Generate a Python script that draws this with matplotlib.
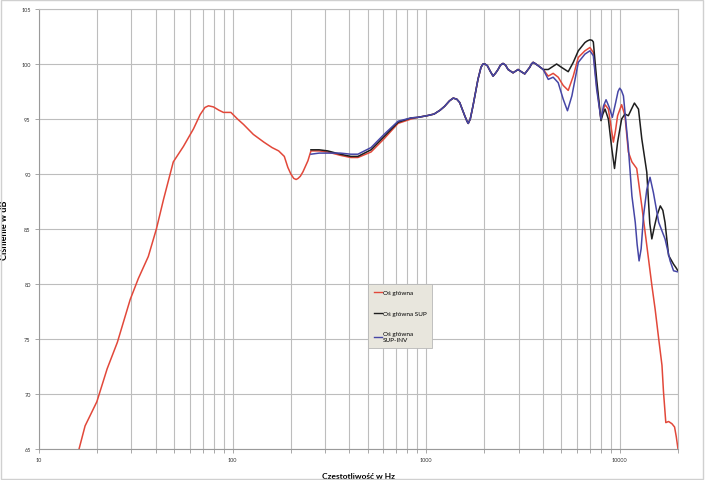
"""
Frequency response: main axis, SUP and SUP-INV
"""

import matplotlib
matplotlib.use('Agg')
import matplotlib.pyplot as plt
from matplotlib.ticker import LogLocator, NullFormatter, FixedLocator, FixedFormatter
from matplotlib.patches import Rectangle

# red curve: Oś główna (full range)
red_f = [16.1, 17.3, 19.9, 22.5, 25.4, 29.6, 32.6, 36.7, 40.4, 44.0, 49.4, 55.7,
         62.8, 68.0, 72.0, 75.1, 79.6, 85.0, 89.7, 98, 106, 114, 128, 145, 160, 173, 185,
         193, 200, 207, 213, 218, 224, 231, 245, 254, 280, 310, 360, 408, 444, 519, 606,
         716, 836]
red_db = [65.0, 67.1, 69.3, 72.3, 74.7, 78.6, 80.5, 82.5, 85.0, 87.7, 91.1, 92.5,
          94.1, 95.4, 96.05, 96.2, 96.1, 95.8, 95.6, 95.6, 95.0, 94.5, 93.6, 92.9, 92.4, 92.1,
          91.6, 90.6, 90.0, 89.6, 89.5, 89.6, 89.8, 90.2, 91.2, 92.1, 92.1, 92.0, 91.7, 91.5,
          91.5, 92.0, 93.2, 94.6, 95.0]

# SUP (black) and SUP-INV (blue) start at 254 Hz
blk_f = [254, 280, 310, 360, 408, 444, 519, 606, 716, 836]
blk_db = [92.2, 92.2, 92.1, 91.8, 91.6, 91.6, 92.2, 93.4, 94.7, 95.1]
blu_f = [254, 280, 310, 360, 408, 444, 519, 606, 716, 836]
blu_db = [91.8, 91.9, 91.9, 91.9, 91.8, 91.8, 92.4, 93.6, 94.8, 95.1]

# common part where all three overlap
mid_f = [906, 1010, 1099, 1180, 1245, 1320, 1380, 1440, 1490, 1582, 1625, 1650, 1690,
         1746, 1852, 1920, 1967, 2010, 2070, 2150, 2217, 2290, 2352, 2420, 2495, 2570,
         2650, 2812, 2985, 3100, 3230, 3428, 3500, 3570, 3650, 3790, 4024]
mid_db = [95.15, 95.3, 95.45, 95.8, 96.15, 96.65, 96.9, 96.8, 96.5, 95.3, 94.8, 94.6, 95.0,
          96.2, 98.6, 99.7, 100.0, 100.0, 99.85, 99.3, 98.9, 99.2, 99.5, 99.9, 100.05, 99.9,
          99.5, 99.2, 99.5, 99.3, 99.1, 99.7, 100.0, 100.15, 100.05, 99.85, 99.5]

# high frequency tails
red_hf = [4274, 4530, 4810, 5105, 5420, 5754, 6109, 6610, 7015, 7305, 7600, 8000,
          8200, 8400, 8735, 9000, 9270, 9500, 9750, 10230, 10640, 11080, 11560, 12240,
          13000, 13800, 14650, 15240, 15900, 16530, 16830, 17300, 17880, 18600, 19200,
          19600, 20000]
red_hdb = [98.9, 99.15, 98.8, 98.05, 97.6, 98.9, 100.6, 101.2, 101.5, 101.05, 98.0, 95.0,
           95.8, 96.3, 95.9, 94.4, 92.9, 93.9, 95.3, 96.3, 95.3, 92.0, 91.1, 90.5,
           87.1, 83.5, 79.9, 77.7, 75.0, 72.6, 70.2, 67.4, 67.5, 67.3, 67.0, 66.1, 65.0]
blk_hf = [4274, 4720, 5000, 5420, 5754, 6109, 6610, 6800, 7015, 7200, 7305, 7600, 8000,
          8200, 8400, 8735, 9100, 9400, 9750, 10230, 10640, 11080, 11500, 11910, 12500,
          13000, 13800, 14300, 14650, 15100, 15560, 16200, 16700, 17140, 17880, 18970,
          19500, 20000]
blk_hdb = [99.5, 100.0, 99.7, 99.3, 100.15, 101.2, 101.95, 102.1, 102.2, 102.15, 102.0,
           98.6, 94.85, 95.5, 95.9, 95.0, 92.3, 90.5, 92.9, 95.0, 95.45, 95.3, 95.9, 96.45,
           95.9, 93.2, 90.15, 85.5, 84.1, 85.2, 86.2, 87.1, 86.7, 85.6, 82.6, 81.8, 81.5,
           81.2]
blu_hf = [4274, 4530, 4810, 5105, 5370, 5660, 6109, 6610, 7015, 7305, 7600, 8000,
          8250, 8500, 8830, 9160, 9530, 9800, 10000, 10200, 10450, 11080, 11560, 12030,
          12300, 12590, 12900, 13270, 13800, 14340, 14930, 15900, 17140, 18210, 18970,
          20000]
blu_hdb = [98.6, 98.8, 98.3, 96.8, 95.75, 97.1, 100.15, 100.9, 101.2, 100.75, 97.7, 95.0,
           96.2, 96.75, 96.05, 95.15, 96.5, 97.5, 97.8, 97.6, 97.1, 92.4, 88.0, 85.6,
           83.6, 82.1, 83.2, 86.2, 88.6, 89.7, 88.3, 85.6, 84.1, 82.1, 81.2, 81.1]

labels = ['Oś główna', 'Oś główna SUP', 'Oś główna\nSUP-INV']
colors = ['#e2483a', '#1e1e1e', '#4646a6']

y_ticks = [65, 70, 75, 80, 85, 90, 95, 100, 105]
x_ticks = [10, 100, 1000, 10000]

plt.rcParams['font.family'] = ['Lato', 'DejaVu Sans']

fig = plt.figure(figsize=(7.05, 4.81), dpi=100)
ax = fig.add_axes([39 / 705, 1 - 450 / 481, (678 - 39) / 705, 440 / 481])

ax.plot(red_f + mid_f + red_hf, red_db + mid_db + red_hdb, color=colors[0], lw=1.1, label=labels[0])
ax.plot(blk_f + mid_f + blk_hf, blk_db + mid_db + blk_hdb, color=colors[1], lw=1.1, label=labels[1])
ax.plot(blu_f + mid_f + blu_hf, blu_db + mid_db + blu_hdb, color=colors[2], lw=1.1, label=labels[2])

ax.set_xscale('log')
ax.set_xlim(10, 20000)
ax.set_ylim(65, 105)

# ticks and grid
grid_color = '#bdbdbd'
ax.xaxis.set_major_locator(FixedLocator(x_ticks))
ax.xaxis.set_major_formatter(FixedFormatter([str(v) for v in x_ticks]))
ax.xaxis.set_minor_locator(LogLocator(base=10, subs=range(2, 10), numticks=20))
ax.xaxis.set_minor_formatter(NullFormatter())
ax.set_yticks(y_ticks)
ax.grid(True, which='both', axis='x', color=grid_color, lw=0.8)
ax.grid(True, which='major', axis='y', color=grid_color, lw=0.8)
ax.tick_params(axis='both', which='both', length=3, width=0.6, color='#9a9a9a',
               labelsize=4, labelcolor='#333333', pad=3)
for side in ax.spines:
    ax.spines[side].set_color(grid_color)
    ax.spines[side].set_linewidth(0.8)
ax.spines['left'].set_color('#9a9a9a')
ax.spines['bottom'].set_color('#9a9a9a')

ax.set_xlabel('Częstotliwość w Hz', fontsize=6, fontweight='bold', labelpad=7)
ax.set_ylabel('Ciśnienie w dB', fontsize=6.5, fontweight='bold', labelpad=9)

leg = ax.legend(loc='upper left', bbox_to_anchor=(368 / 705, 1 - 285 / 481),
                bbox_transform=fig.transFigure, fontsize=4.6, frameon=True,
                fancybox=False, handlelength=1.3, handletextpad=0.1,
                labelspacing=2.4, borderpad=0.9, borderaxespad=0)
leg.get_frame().set_facecolor('#e8e6dd')
leg.get_frame().set_edgecolor('#b8b8b8')
leg.get_frame().set_linewidth(0.6)
leg.get_frame().set_alpha(1)
for line in leg.get_lines():
    line.set_linewidth(1.0)

# light chart border
fig.patches.append(Rectangle((0.002, 0.003), 0.995, 0.994, transform=fig.transFigure,
                             fill=False, edgecolor='#d0d0d0', lw=1.0))

fig.savefig('out.png', dpi=100)
